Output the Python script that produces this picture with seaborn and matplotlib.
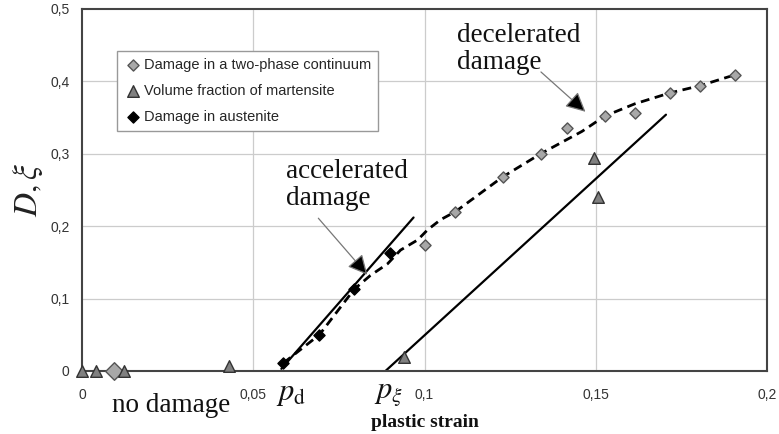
import pandas as pd
import seaborn as sns
import matplotlib.pyplot as plt

# damage in a two-phase continuum (grey diamonds)
two_phase_x = [0.1000, 0.1090, 0.1228, 0.1339, 0.1415, 0.1526, 0.1614, 0.1716, 0.1804, 0.1906]
two_phase_y = [0.174, 0.220, 0.268, 0.300, 0.336, 0.352, 0.356, 0.384, 0.394, 0.409]
# the big grey diamond lying on the axis
two_phase0_x = [0.0093]
two_phase0_y = [0.0]

# volume fraction of martensite (triangles)
martensite_x = [0.0, 0.0041, 0.0123, 0.0430, 0.0939, 0.1494, 0.1506]
martensite_y = [0.0, 0.0, 0.0, 0.007, 0.019, 0.294, 0.240]

# damage in austenite (black diamonds)
austenite_x = [0.0588, 0.0693, 0.0795, 0.0898]
austenite_y = [0.011, 0.050, 0.113, 0.163]

# fitted lines
acc_line_x = [0.0582, 0.0968]
acc_line_y = [0.003, 0.212]
mart_line_x = [0.0886, 0.1705]
mart_line_y = [0.0, 0.354]
dash_x = [0.0588, 0.0693, 0.0795, 0.0842, 0.0892, 0.0930, 0.0980, 0.1009, 0.1047,
          0.1090, 0.1228, 0.1339, 0.1460, 0.1526, 0.1614, 0.1716, 0.1804, 0.1906]
dash_y = [0.011, 0.050, 0.113, 0.132, 0.148, 0.167, 0.181, 0.195, 0.209,
          0.220, 0.268, 0.300, 0.331, 0.352, 0.369, 0.384, 0.394, 0.409]

x_ticks = [0, 0.05, 0.1, 0.15, 0.2]
x_labels = ["0", "0,05", "0,1", "0,15", "0,2"]
y_ticks = [0, 0.1, 0.2, 0.3, 0.4, 0.5]
y_labels = ["0", "0,1", "0,2", "0,3", "0,4", "0,5"]

sns.set_theme(style="white")
plt.rcParams["font.family"] = ["Liberation Sans", "DejaVu Sans"]
plt.rcParams["mathtext.fontset"] = "stix"

fig = plt.figure(figsize=(7.79, 4.34), dpi=100)
ax = fig.add_axes([0.1053, 0.1452, 0.8793, 0.8341])

grid_c = "#cccccc"
for v in x_ticks[1:-1]:
    ax.axvline(v, color=grid_c, lw=0.9, zorder=0)
for v in y_ticks[1:-1]:
    ax.axhline(v, color=grid_c, lw=0.9, zorder=0)

# lines
sns.lineplot(x=acc_line_x, y=acc_line_y, ax=ax, color="black", lw=1.6, sort=False)
sns.lineplot(x=mart_line_x, y=mart_line_y, ax=ax, color="black", lw=1.6, sort=False)
sns.lineplot(x=dash_x, y=dash_y, ax=ax, color="black", lw=2.0, sort=False,
             dashes=False, linestyle=(0, (3.2, 2)))

# markers
sns.scatterplot(x=two_phase0_x, y=two_phase0_y, ax=ax, marker="D", s=80,
                color="#a8a8a8", edgecolor="#555555", linewidth=1.0, clip_on=False, zorder=5)
sns.scatterplot(x=two_phase_x, y=two_phase_y, ax=ax, marker="D", s=32,
                color="#a8a8a8", edgecolor="#555555", linewidth=1.0, clip_on=False, zorder=5,
                label="Damage in a two-phase continuum")
sns.scatterplot(x=martensite_x, y=martensite_y, ax=ax, marker="^", s=70,
                color="#808080", edgecolor="#333333", linewidth=1.0, clip_on=False, zorder=5,
                label="Volume fraction of martensite")
sns.scatterplot(x=austenite_x, y=austenite_y, ax=ax, marker="D", s=32,
                color="black", edgecolor="black", linewidth=1.0, clip_on=False, zorder=6,
                label="Damage in austenite")

ax.set_xlim(0, 0.2)
ax.set_ylim(0, 0.5)
ax.set_xticks(x_ticks)
ax.set_xticklabels(x_labels)
ax.set_yticks(y_ticks)
ax.set_yticklabels(y_labels)
ax.tick_params(axis="both", labelsize=10, colors="#333333", length=4, width=1)
ax.tick_params(axis="x", pad=8)
ax.tick_params(axis="y", pad=5)
for s in ax.spines.values():
    s.set_color("#444444")
    s.set_linewidth(1.5)

ax.set_ylabel(r"$D,\xi$", fontsize=24, color="#222222", labelpad=4)
ax.set_xlabel("plastic strain", family="Liberation Serif", fontweight="bold",
              fontsize=14, color="#111111", labelpad=9)

leg = ax.legend(loc="upper left", bbox_to_anchor=(0.051, 0.5, 0.381, 0.384),
                mode="expand", borderaxespad=0, fontsize=10.5, frameon=True,
                fancybox=False, edgecolor="#999999", framealpha=1, borderpad=0.5,
                labelspacing=0.82, handlelength=1.2, handletextpad=0.15)
leg.get_frame().set_linewidth(1.0)

serif = "Liberation Serif"
ax.text(0.0596, 0.257, "accelerated\ndamage", family=serif, fontsize=19.5,
        ha="left", va="center", color="#111111", linespacing=1.08)
ax.text(0.1094, 0.445, "decelerated\ndamage", family=serif, fontsize=19.5,
        ha="left", va="center", color="#111111", linespacing=1.08)
ax.text(0.026, -0.047, "no damage", family=serif, fontsize=19.5,
        ha="center", va="center", color="#111111", clip_on=False)
ax.text(0.061, -0.030, r"$p_{\mathrm{d}}$", fontsize=22, ha="center", va="center",
        color="#111111", clip_on=False)
ax.text(0.0895, -0.030, r"$p_{\xi}$", fontsize=22, ha="center", va="center",
        color="#111111", clip_on=False)

arrow = dict(arrowstyle="-|>,head_length=0.6,head_width=0.3", color="#777777",
             fc="black", lw=0.9, mutation_scale=20, shrinkA=0, shrinkB=0)
ax.annotate("", xy=(0.0833, 0.133), xytext=(0.069, 0.211), arrowprops=arrow)
ax.annotate("", xy=(0.147, 0.358), xytext=(0.134, 0.413), arrowprops=arrow)

fig.savefig("out.png", dpi=100)
